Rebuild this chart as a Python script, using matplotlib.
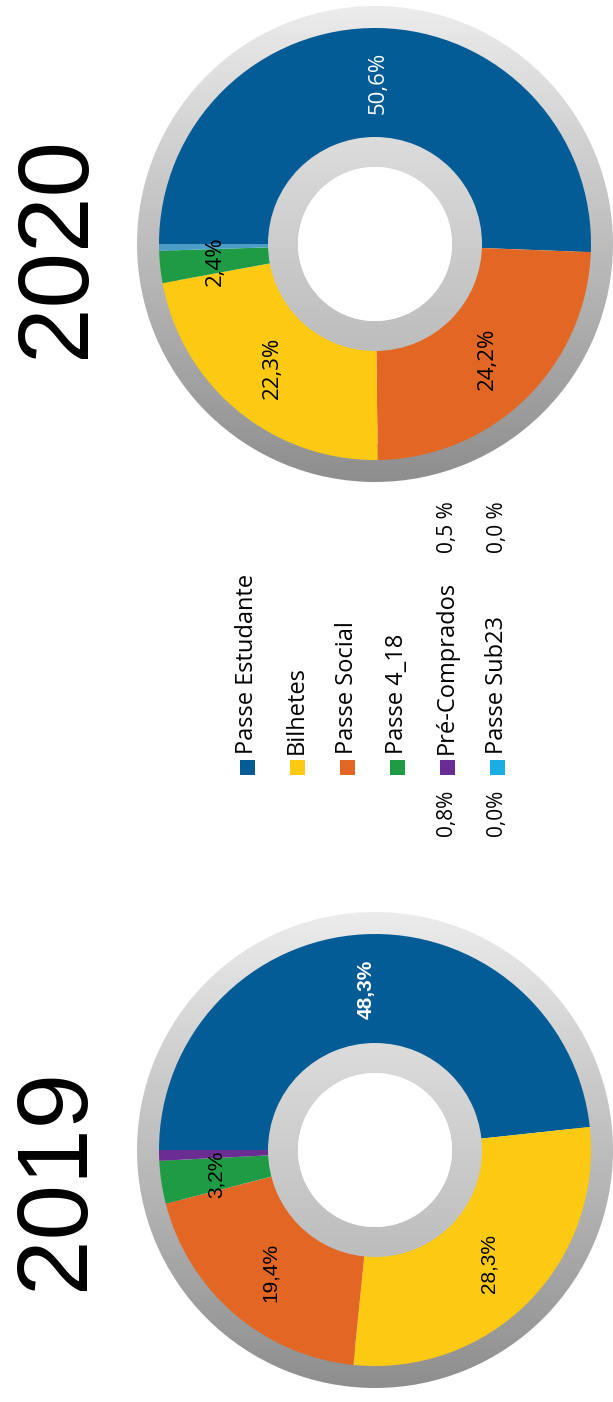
import numpy as np
import matplotlib
matplotlib.use("Agg")
import matplotlib.pyplot as plt
from matplotlib.patches import Wedge, Rectangle

# ---- data ----
categories = ["Passe Estudante", "Bilhetes", "Passe Social", "Passe 4_18",
              "Pré-Comprados", "Passe Sub23"]
colors = ["#045c97", "#fcca12", "#e36724", "#1f9b46", "#6a2e93", "#1aade4"]
values_2019 = [48.3, 28.3, 19.4, 3.2, 0.8, 0.0]
values_2020 = [50.6, 22.3, 24.2, 2.4, 0.5, 0.0]
# drawing order of slices (clockwise) per year
order_2019 = [0, 1, 2, 3, 4, 5]
order_2020 = [0, 2, 1, 3, 4, 5]
slice_colors_2020 = {4: "#4b9cc6"}  # thin slice tint in 2020 chart
years = ["2019", "2020"]
legend_left = ["", "", "", "", "0,8%", "0,0%"]     # 2019 side
legend_right = ["", "", "", "", "0,5 %", "0,0 %"]  # 2020 side

W, H = 613, 1402
fig = plt.figure(figsize=(W / 100, H / 100), dpi=100)
ax = fig.add_axes([0, 0, 1, 1])


def Y(y_img):
    return H - y_img


def ring(cx, cy, r_in, r_out, top, bottom, z):
    n = 256
    t = np.linspace(0, 1, n)[:, None]
    c0 = np.array(matplotlib.colors.to_rgb(top))
    c1 = np.array(matplotlib.colors.to_rgb(bottom))
    img = (c0[None, None, :] * (1 - t[..., None]) + c1[None, None, :] * t[..., None])
    img = np.repeat(img, 4, axis=1)
    im = ax.imshow(img, extent=(cx - r_out, cx + r_out, cy - r_out, cy + r_out),
                   origin="upper", zorder=z, interpolation="bilinear")
    clip = Wedge((cx, cy), r_out, 0, 360, width=r_out - r_in,
                 transform=ax.transData)
    im.set_clip_path(clip)


def donut(cx, cy, vals, order, cols_over, label_font, big_bold):
    v = [vals[i] for i in order]
    c = [cols_over.get(i, colors[i]) for i in order]
    fmt = lambda p: ("%.1f%%" % p).replace(".", ",") if p >= 1 else ""
    # outer decorative ring
    ring(cx, cy, 200, 238, "#ececec", "#8e8e8e", 1)
    wedges, texts, autotexts = ax.pie(
        v, colors=c, startangle=180, counterclock=False, center=(cx, cy),
        radius=216, wedgeprops=dict(width=216 - 105, linewidth=0),
        autopct=fmt, pctdistance=0.745,
        textprops=dict(family=label_font, fontsize=16 if label_font == "Open Sans" else 15))
    for w in wedges:
        w.set_zorder(2)
    for k, t in enumerate(autotexts):
        t.set_rotation(90)
        t.set_zorder(5)
        t.set_ha("center")
        t.set_va("center")
        if k == 0:
            t.set_color("white")
            if big_bold:
                t.set_fontweight("bold")
        else:
            t.set_color("black")
    # inner gray ring and hole
    ring(cx, cy, 77, 107, "#dcdcdc", "#bdbdbd", 3)
    ax.add_patch(Wedge((cx, cy), 77, 0, 360, facecolor="white", zorder=4))


donut(375, Y(244), values_2020, order_2020, slice_colors_2020, "Open Sans", False)
donut(375, Y(1150), values_2019, order_2019, {}, "Liberation Sans", True)

# year titles
ax.text(58, Y(247), years[1], rotation=90, ha="center", va="center",
        fontsize=72, family="Liberation Sans", color="black")
ax.text(57, Y(1179), years[0], rotation=90, ha="center", va="center",
        fontsize=72, family="Liberation Sans", color="black")

# legend
for i, name in enumerate(categories):
    x = 247 + 50 * i
    ax.add_patch(Rectangle((x - 7.5, Y(767) - 7.5), 15, 15,
                           facecolor=colors[i], edgecolor="none", zorder=5))
    ax.text(x, Y(754), name, rotation=90, ha="center", va="bottom",
            fontsize=17, family="Open Sans", color="black", zorder=5)
    if legend_left[i]:
        ax.text(x, Y(813), legend_left[i], rotation=90, ha="center", va="center",
                fontsize=15, family="Open Sans", color="black")
    if legend_right[i]:
        ax.text(x, Y(527), legend_right[i], rotation=90, ha="center", va="center",
                fontsize=15, family="Open Sans", color="black")

ax.set_xlim(0, W)
ax.set_ylim(0, H)
ax.set_aspect("equal")
ax.axis("off")
fig.savefig("out.png", dpi=100)
